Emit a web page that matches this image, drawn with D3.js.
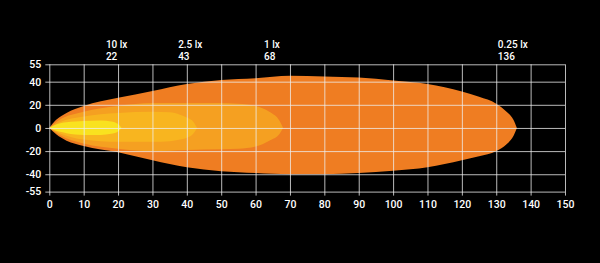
<!DOCTYPE html>
<html>
<head>
<meta charset="utf-8">
<script src="https://cdn.jsdelivr.net/npm/d3@7"></script>
<style>
  body { margin: 0; background: #000; }
  text { font-family: Roboto, "Liberation Sans", sans-serif; font-weight: 500; fill: #fff; }
</style>
</head>
<body>
<div id="chart"></div>
<script>
// Beam contours: [distance, upper edge, lower edge] in metres.
var beam025 = [
  [0, 0, 0], [2, 7, -5.5], [5, 13, -11], [10, 19, -15.5], [20, 26, -21],
  [30, 32, -28], [40, 38, -34], [50, 41.5, -37.5], [60, 43, -39],
  [70, 45, -40], [80, 44.5, -40], [90, 43.5, -39], [100, 41, -37],
  [110, 38, -34], [120, 31.5, -28], [125, 27, -24.5], [130, 21, -20],
  [133, 14, -14], [135, 7, -7], [136, 0, 0]
];
var beam1 = [
  [0, 0, 0], [3, 7, -6], [10, 14, -13.5], [20, 19, -18], [30, 21.5, -20],
  [40, 21.5, -19], [50, 21.5, -18.5], [55, 21, -18], [60, 19, -16],
  [64, 14, -11], [67, 6, -5], [68, 0, 0]
];
var beam25 = [
  [0, 0, 0], [3, 5, -4.5], [10, 10, -10], [20, 13, -12], [30, 14, -12],
  [35, 13.5, -11.5], [38, 11.5, -10], [40, 9, -8.5], [42, 5, -4.5], [43, 0, 0]
];
var beam10 = [
  [0, 0, 0], [2, 3, -2.5], [5, 5, -4.5], [10, 6, -6], [15, 6.5, -6],
  [18, 5.5, -5], [20, 3.5, -3], [21, 0, 0]
];

var layers = [beam025, beam1, beam25, beam10];
var layerColors = ["#ef7d22", "#f5a021", "#f8b51f", "#f9e21f"];

var xTicks = [0, 10, 20, 30, 40, 50, 60, 70, 80, 90, 100, 110, 120, 130, 140, 150];
var yTicks = [55, 40, 20, 0, -20, -40, -55];

var luxLabels = ["10 lx", "2.5 lx", "1 lx", "0.25 lx"];
var luxDistances = [22, 43, 68, 136];

var margin = { top: 64.3, right: 35, bottom: 71.4, left: 49.3 };
var width = 600 - margin.left - margin.right;
var height = 263 - margin.top - margin.bottom;

var xScale = d3.scaleLinear().domain([0, 150]).range([0, width]);
var yScale = d3.scaleLinear().domain([-55, 55]).range([height, 0]);

var svg = d3.select("#chart").append("svg")
  .attr("width", 600)
  .attr("height", 263)
  .style("background", "#000")
  .append("g")
  .attr("transform", "translate(" + margin.left + "," + margin.top + ")");

// Beam areas, widest first.
var area = d3.area()
  .x(function(d) { return xScale(d[0]); })
  .y0(function(d) { return yScale(d[2]); })
  .y1(function(d) { return yScale(d[1]); })
  .curve(d3.curveMonotoneX);

svg.selectAll(".beam")
  .data(layers)
  .enter().append("path")
  .attr("class", "beam")
  .attr("d", area)
  .attr("fill", function(d, i) { return layerColors[i]; });

// Grid via axes, drawn over the beam.
var xAxis = d3.axisBottom(xScale)
  .tickValues(xTicks)
  .tickSize(-(height + 4))
  .tickPadding(5)
  .tickFormat(String);

var yAxis = d3.axisLeft(yScale)
  .tickValues(yTicks)
  .tickSize(-(width + 4))
  .tickPadding(4)
  .tickFormat(String);

var gx = svg.append("g")
  .attr("transform", "translate(0," + (height + 4) + ")")
  .call(xAxis);

var gy = svg.append("g")
  .attr("transform", "translate(-4,0)")
  .call(yAxis);

[gx, gy].forEach(function(g) {
  g.attr("font-family", null);
  g.select(".domain").remove();
  g.selectAll("line")
    .attr("stroke", "#eee")
    .attr("stroke-opacity", 0.78)
    .attr("stroke-width", 1);
  g.selectAll("text")
    .attr("fill", "#fff")
    .style("font-size", "10.5px");
});

// Lux labels above the grid: level on top, distance below.
function luxX(d, i) { return xScale(luxDistances[i]) - 19; }

svg.selectAll(".lux")
  .data(luxLabels)
  .enter().append("text")
  .attr("class", "lux")
  .attr("x", luxX)
  .attr("y", -16)
  .style("font-size", "10px")
  .text(function(d) { return d; });

svg.selectAll(".dist")
  .data(luxDistances)
  .enter().append("text")
  .attr("class", "dist")
  .attr("x", luxX)
  .attr("y", -4.2)
  .style("font-size", "10px")
  .text(function(d) { return d; });
</script>
</body>
</html>
